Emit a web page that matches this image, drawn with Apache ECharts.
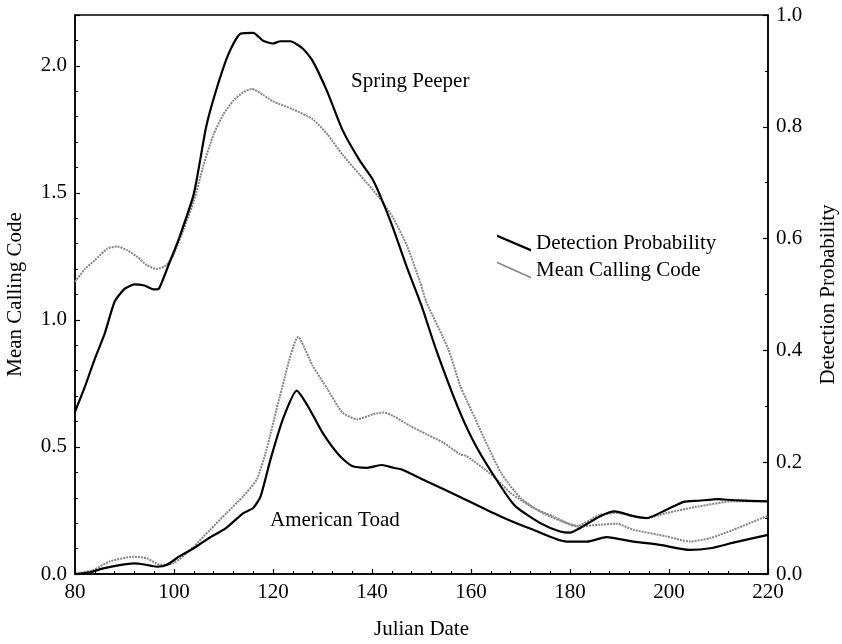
<!DOCTYPE html>
<html>
<head>
<meta charset="utf-8">
<script src="https://cdn.jsdelivr.net/npm/echarts@6/dist/echarts.min.js"></script>
<style>
  html, body { margin: 0; padding: 0; background: #fff; }
  #chart { width: 842px; height: 644px; }
</style>
</head>
<body>
<div id="chart"></div>
<script>
// Spring Peeper: detection probability (right axis) by Julian date
const peeperDetDays = [80, 82, 84, 86, 88, 90, 92, 94, 96, 97, 99, 101, 104, 106.5, 108.5, 111, 113.5, 116, 118, 120, 121.5, 123.5, 126, 128, 131, 134, 137.5, 140, 141.5, 144, 147, 150, 153, 157.5, 161, 166, 169, 174, 178, 180, 182, 186, 189, 193, 195.5, 199.5, 203, 206, 210, 213, 220];
const peeperDet = [0.29, 0.335, 0.385, 0.43, 0.487, 0.51, 0.518, 0.516, 0.509, 0.511, 0.555, 0.60, 0.68, 0.80, 0.865, 0.93, 0.967, 0.968, 0.954, 0.949, 0.953, 0.953, 0.94, 0.918, 0.862, 0.795, 0.74, 0.708, 0.68, 0.625, 0.55, 0.48, 0.40, 0.295, 0.229, 0.157, 0.121, 0.091, 0.076, 0.074, 0.082, 0.103, 0.112, 0.103, 0.100, 0.115, 0.129, 0.131, 0.134, 0.132, 0.130];

// Spring Peeper: mean calling code (left axis)
const peeperCodeDays = [80, 82, 84, 86.5, 88.5, 90.5, 92.5, 94.5, 96.5, 98.5, 100, 102, 104, 106, 108, 110, 112, 114, 115.7, 118, 120, 124, 128, 131, 134, 137.5, 141.5, 144.3, 147, 149.7, 151, 155.4, 157.8, 159, 166, 170, 174, 178, 181.5, 186, 189.5, 195.5, 199.5, 206, 213, 220];
const peeperCode = [1.15, 1.2, 1.235, 1.28, 1.289, 1.275, 1.249, 1.216, 1.2, 1.216, 1.26, 1.36, 1.467, 1.612, 1.73, 1.81, 1.863, 1.896, 1.909, 1.886, 1.86, 1.829, 1.79, 1.73, 1.651, 1.572, 1.48, 1.40, 1.295, 1.15, 1.07, 0.886, 0.741, 0.689, 0.40, 0.30, 0.245, 0.21, 0.19, 0.233, 0.24, 0.22, 0.24, 0.266, 0.286, 0.286];

// American Toad: detection probability (right axis)
const toadDetDays = [80, 83, 85.7, 89, 92, 94, 96.5, 98.5, 101, 104, 107, 110.5, 114, 116, 117.5, 119.5, 122, 124.8, 127, 130, 133.5, 136, 139, 142, 144.3, 146, 151, 158, 166, 172.6, 179.3, 183.4, 187.4, 192.8, 198.2, 204.2, 208.3, 213, 220];
const toadDet = [0.0, 0.003, 0.01, 0.016, 0.019, 0.017, 0.013, 0.016, 0.031, 0.046, 0.064, 0.082, 0.109, 0.118, 0.139, 0.205, 0.277, 0.328, 0.301, 0.253, 0.211, 0.193, 0.19, 0.195, 0.19, 0.187, 0.166, 0.137, 0.103, 0.079, 0.058, 0.058, 0.066, 0.058, 0.052, 0.043, 0.046, 0.056, 0.070];

// American Toad: mean calling code (left axis)
const toadCodeDays = [80, 83.7, 87, 91.8, 94.5, 97.2, 99.9, 104, 107.3, 110.6, 114, 116.7, 118.7, 121.4, 125.1, 128, 131, 134, 137, 140.3, 142.3, 144.3, 147.7, 151, 154.4, 157.8, 159.1, 164.5, 168, 172.6, 176.6, 181.4, 186, 189.4, 192.8, 199.5, 204.2, 208.3, 213, 220];
const toadCode = [0.0, 0.016, 0.049, 0.068, 0.062, 0.036, 0.042, 0.108, 0.174, 0.24, 0.306, 0.372, 0.49, 0.70, 0.933, 0.82, 0.728, 0.636, 0.609, 0.629, 0.636, 0.622, 0.583, 0.55, 0.517, 0.471, 0.464, 0.385, 0.319, 0.26, 0.227, 0.187, 0.194, 0.198, 0.174, 0.148, 0.128, 0.141, 0.174, 0.23];

const seriesNames = ['Detection Probability', 'Mean Calling Code'];
const speciesLabels = ['Spring Peeper', 'American Toad'];
const axisTitles = { x: 'Julian Date', left: 'Mean Calling Code', right: 'Detection Probability' };

const FONT = 'Liberation Serif, Times New Roman, serif';
const DET_COLOR = '#000000';
const CODE_COLOR = '#858585';

function pairs(xs, ys) { return xs.map((x, i) => [x, ys[i]]); }

const detLine = { color: DET_COLOR, width: 2.2 };
const codeLine = { color: CODE_COLOR, width: 2, type: [2, 1] };

function lineSeries(name, yAxisIndex, data, lineStyle) {
  return {
    name, type: 'line', yAxisIndex, data,
    showSymbol: false, symbol: 'none',
    smooth: 0.2,
    lineStyle, itemStyle: { color: lineStyle.color },
    z: name === seriesNames[0] ? 3 : 2
  };
}

const tickText = { fontFamily: FONT, fontSize: 21, color: '#000' };

const option = {
  animation: false,
  backgroundColor: '#fff',
  grid: {
    left: 75, right: 74, top: 15, bottom: 70,
    outerBoundsMode: 'none', containLabel: false,
    show: true, borderColor: '#000', borderWidth: 1.5, backgroundColor: 'transparent'
  },
  legend: {
    orient: 'vertical', left: 497, top: 232, padding: 0,
    itemWidth: 34, itemHeight: 17, itemGap: 5,
    textStyle: { fontFamily: FONT, fontSize: 21, color: '#000', lineHeight: 22 },
    data: [
      { name: seriesNames[0], icon: 'path://M0,0 L34,14.5 L34,17 L0,2.5 Z', itemStyle: { color: DET_COLOR } },
      { name: seriesNames[1], icon: 'path://M0,0 L34,15.3 L34,17 L0,1.7 Z', itemStyle: { color: CODE_COLOR } }
    ]
  },
  xAxis: {
    type: 'value', min: 80, max: 220, interval: 20,
    name: axisTitles.x, nameLocation: 'middle', nameGap: 45,
    nameTextStyle: { fontFamily: FONT, fontSize: 21, color: '#000' },
    axisLine: { lineStyle: { color: '#000', width: 1.5 } },
    axisTick: { inside: true, length: 5, lineStyle: { color: '#000', width: 1.2 } },
    minorTick: { show: true, splitNumber: 5, length: 3, lineStyle: { color: '#000', width: 1 } },
    axisLabel: Object.assign({ margin: 8 }, tickText),
    splitLine: { show: false }
  },
  yAxis: [
    {
      type: 'value', min: 0, max: 2.2, interval: 0.5, position: 'left',
      name: axisTitles.left, nameLocation: 'middle', nameGap: 49, nameRotate: 90,
      nameTextStyle: { fontFamily: FONT, fontSize: 21, color: '#000' },
      axisLine: { show: true, lineStyle: { color: '#000', width: 1.5 } },
      axisTick: { show: true, inside: true, length: 5, lineStyle: { color: '#000', width: 1.2 } },
      minorTick: { show: true, splitNumber: 5, length: 3, lineStyle: { color: '#000', width: 1 } },
      axisLabel: Object.assign({ margin: 8, formatter: v => v.toFixed(1), showMaxLabel: false }, tickText),
      splitLine: { show: false }
    },
    {
      type: 'value', min: 0, max: 1.0, interval: 0.2, position: 'right',
      name: axisTitles.right, nameLocation: 'middle', nameGap: 50, nameRotate: 90,
      nameTextStyle: { fontFamily: FONT, fontSize: 21, color: '#000' },
      axisLine: { show: true, lineStyle: { color: '#000', width: 1.5 } },
      axisTick: { show: true, inside: true, length: 5, lineStyle: { color: '#000', width: 1.2 } },
      minorTick: { show: true, splitNumber: 2, length: 3, lineStyle: { color: '#000', width: 1 } },
      axisLabel: Object.assign({ margin: 8, formatter: v => v.toFixed(1) }, tickText),
      splitLine: { show: false }
    }
  ],
  graphic: [
    { type: 'text', left: 351, top: 71, style: { text: speciesLabels[0], font: '21px ' + FONT, fill: '#000' } },
    { type: 'text', left: 270, top: 510, style: { text: speciesLabels[1], font: '21px ' + FONT, fill: '#000' } }
  ],
  series: [
    lineSeries(seriesNames[0], 1, pairs(peeperDetDays, peeperDet), detLine),
    lineSeries(seriesNames[1], 0, pairs(peeperCodeDays, peeperCode), codeLine),
    lineSeries(seriesNames[0], 1, pairs(toadDetDays, toadDet), detLine),
    lineSeries(seriesNames[1], 0, pairs(toadCodeDays, toadCode), codeLine)
  ]
};

const chart = echarts.init(document.getElementById('chart'), null, { renderer: 'canvas' });
chart.setOption(option);
</script>
</body>
</html>
